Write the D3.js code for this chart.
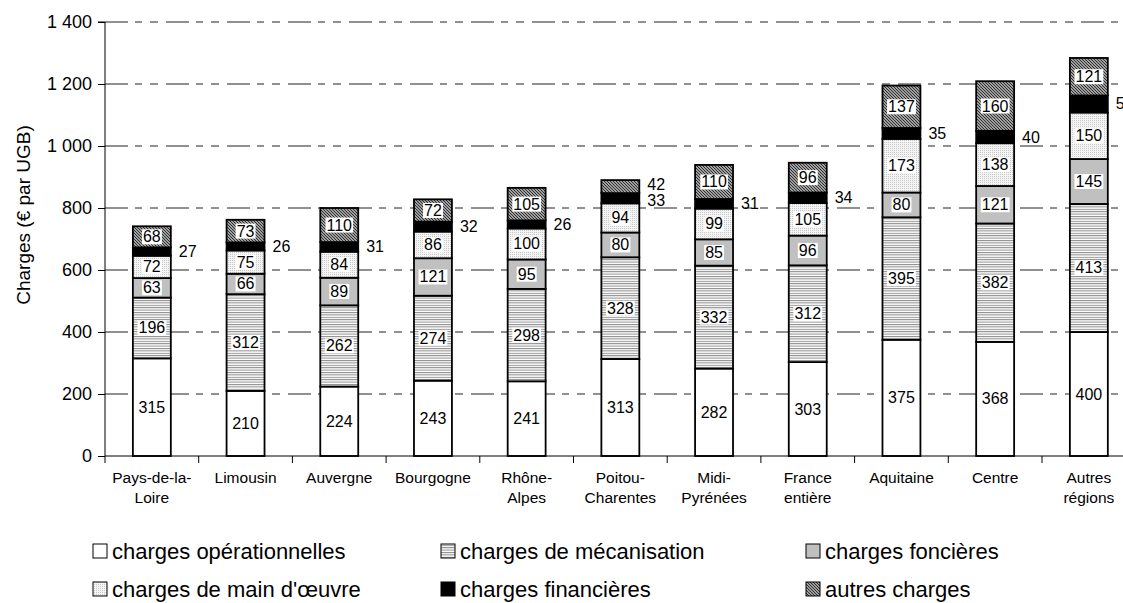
<!DOCTYPE html>
<html>
<head>
<meta charset="utf-8">
<script src="https://cdn.jsdelivr.net/npm/d3@7"></script>
<style>
  html, body { margin: 0; padding: 0; background: #fff; }
  svg { display: block; font-family: "Liberation Sans", Arial, sans-serif; }
</style>
</head>
<body>
<svg id="chart" width="1123" height="603"></svg>
<script>
// Regions (line breaks marked with "\n")
const categories = [
  "Pays-de-la-\nLoire", "Limousin", "Auvergne", "Bourgogne", "Rhône-\nAlpes",
  "Poitou-\nCharentes", "Midi-\nPyrénées", "France\nentière", "Aquitaine",
  "Centre", "Autres\nrégions"
];

// Charges per UGB (€), one array per cost item, stacked bottom to top
const operationnelles = [315, 210, 224, 243, 241, 313, 282, 303, 375, 368, 400];
const mecanisation    = [196, 312, 262, 274, 298, 328, 332, 312, 395, 382, 413];
const foncieres       = [63, 66, 89, 121, 95, 80, 85, 96, 80, 121, 145];
const mainOeuvre      = [72, 75, 84, 86, 100, 94, 99, 105, 173, 138, 150];
const financieres     = [27, 26, 31, 32, 26, 33, 31, 34, 35, 40, 55];
const autres          = [68, 73, 110, 72, 105, 42, 110, 96, 137, 160, 121];

const seriesNames = [
  "charges opérationnelles", "charges de mécanisation", "charges foncières",
  "charges de main d'œuvre", "charges financières", "autres charges"
];
const yTicks = [0, 200, 400, 600, 800, 1000, 1200, 1400];
const yTitle = "Charges (€ par UGB)";

const seriesValues = [operationnelles, mecanisation, foncieres, mainOeuvre, financieres, autres];
const keys = ["op", "meca", "fonc", "mo", "fin", "autres"];

const rows = categories.map((c, i) => {
  const r = { cat: c };
  keys.forEach((k, j) => r[k] = seriesValues[j][i]);
  return r;
});

const svg = d3.select("#chart");
const W = 1123;

// Fill patterns
const defs = svg.append("defs");
const pMeca = defs.append("pattern").attr("id", "pat-meca")
  .attr("patternUnits", "userSpaceOnUse").attr("width", 4).attr("height", 2.4);
pMeca.append("rect").attr("width", 4).attr("height", 2.4).attr("fill", "#fff");
pMeca.append("rect").attr("y", 0).attr("width", 4).attr("height", 1).attr("fill", "#8a8a8a");

const pMo = defs.append("pattern").attr("id", "pat-mo")
  .attr("patternUnits", "userSpaceOnUse").attr("width", 2).attr("height", 2);
pMo.append("rect").attr("width", 2).attr("height", 2).attr("fill", "#f4f4f4");
pMo.append("rect").attr("width", 1).attr("height", 1).attr("fill", "#c8c8c8");

const pAut = defs.append("pattern").attr("id", "pat-autres")
  .attr("patternUnits", "userSpaceOnUse").attr("width", 3).attr("height", 3);
pAut.append("rect").attr("width", 3).attr("height", 3).attr("fill", "#d0d0d0");
pAut.append("path").attr("d", "M-1,-1 L4,4 M-1,2 L1,4 M2,-1 L4,1")
  .attr("stroke", "#2a2a2a").attr("stroke-width", 1.15);

const fills = {
  op: "#ffffff",
  meca: "url(#pat-meca)",
  fonc: "#c0c0c0",
  mo: "url(#pat-mo)",
  fin: "#000000",
  autres: "url(#pat-autres)"
};

// Scales
const x0 = 105, plotRight = 105 + 11 * 93.7;
const x = d3.scaleBand().domain(categories).range([x0, plotRight])
  .paddingInner(0.595).paddingOuter(0.2975);
const y = d3.scaleLinear().domain([0, 1400]).range([456, 22]);

// Gridlines
svg.append("g").selectAll("line")
  .data(yTicks.filter(t => t > 0))
  .join("line")
  .attr("x1", x0).attr("x2", W)
  .attr("y1", d => y(d)).attr("y2", d => y(d))
  .attr("stroke", "#222").attr("stroke-width", 1)
  .attr("stroke-dasharray", "23,7,7,8,8,8");

// Y axis
const yAxis = d3.axisLeft(y).tickValues(yTicks).tickSize(7).tickPadding(6)
  .tickFormat(d => d3.format(",")(d).replace(/,/g, " "));
const gy = svg.append("g").attr("transform", `translate(${x0},0)`).call(yAxis);
gy.select(".domain").attr("stroke", "#000").attr("d", `M-7,${y(1400)}H0V${y(0)}`);
gy.selectAll(".tick line").attr("stroke", "#000");
gy.selectAll(".tick text").attr("font-size", 18).attr("fill", "#000")
  .attr("font-family", "Liberation Sans, Arial, sans-serif");

// Y title
svg.append("text")
  .attr("transform", `translate(23,215) rotate(-90)`)
  .attr("text-anchor", "middle").attr("dominant-baseline", "central")
  .attr("font-size", 19).text(yTitle);

// Stacked bars
const stack = d3.stack().keys(keys)(rows);
const gBars = svg.append("g");
stack.forEach(layer => {
  gBars.append("g").selectAll("rect")
    .data(layer)
    .join("rect")
    .attr("x", d => x(d.data.cat))
    .attr("width", x.bandwidth())
    .attr("y", d => y(d[1]))
    .attr("height", d => y(d[0]) - y(d[1]))
    .attr("fill", fills[layer.key])
    .attr("stroke", "#000").attr("stroke-width", 1.8);
});

// X axis
svg.append("line").attr("x1", x0).attr("x2", W).attr("y1", y(0)).attr("y2", y(0))
  .attr("stroke", "#000");
const step = x.step();
const gap = (step - x.bandwidth()) / 2;
svg.append("g").selectAll("line")
  .data(categories)
  .join("line")
  .attr("x1", d => x(d) - gap).attr("x2", d => x(d) - gap)
  .attr("y1", y(0)).attr("y2", y(0) + 7)
  .attr("stroke", "#000");

const gx = svg.append("g");
categories.forEach(c => {
  const t = gx.append("text").attr("text-anchor", "middle")
    .attr("font-size", 15.5)
    .attr("x", x(c) + x.bandwidth() / 2).attr("y", 483);
  c.split("\n").forEach((line, k) => {
    t.append("tspan").attr("x", x(c) + x.bandwidth() / 2)
      .attr("dy", k === 0 ? 0 : 20).text(line);
  });
});

// Value labels
const gLab = svg.append("g").attr("font-size", 16);
rows.forEach((r, i) => {
  const outside = [];
  stack.forEach(layer => {
    const d = layer[i];
    const v = d[1] - d[0];
    const cy = (y(d[0]) + y(d[1])) / 2;
    const isOut = layer.key === "fin" || (y(d[0]) - y(d[1])) < 15;
    if (isOut) outside.push({ v, cy });
    else {
      const cx = x(r.cat) + x.bandwidth() / 2;
      const g = gLab.append("g");
      const t = g.append("text").attr("x", cx).attr("y", cy)
        .attr("text-anchor", "middle").attr("dominant-baseline", "central").text(v);
      const b = t.node().getBBox();
      g.insert("rect", "text").attr("x", b.x - 1).attr("y", b.y + 1)
        .attr("width", b.width + 2).attr("height", b.height - 2).attr("fill", "#fff");
    }
  });
  // keep stacked outside labels apart
  if (outside.length === 2) {
    const diff = outside[0].cy - outside[1].cy;
    if (diff < 16) {
      const mid = (outside[0].cy + outside[1].cy) / 2;
      outside[0].cy = mid + 8; outside[1].cy = mid - 8;
    }
  }
  outside.forEach(o => {
    gLab.append("text").attr("x", x(r.cat) + x.bandwidth() + 8).attr("y", o.cy)
      .attr("dominant-baseline", "central").text(o.v);
  });
});

// Legend
const legendPos = [
  [93, 551], [441, 551], [806, 551],
  [93, 589], [441, 589], [806, 589]
];
const gLeg = svg.append("g");
seriesNames.forEach((name, j) => {
  const [lx, ly] = legendPos[j];
  gLeg.append("rect").attr("x", lx).attr("y", ly - 7).attr("width", 14).attr("height", 14)
    .attr("fill", fills[keys[j]]).attr("stroke", "#000").attr("stroke-width", 1);
  gLeg.append("text").attr("x", lx + 19).attr("y", ly)
    .attr("dominant-baseline", "central").attr("font-size", 22).text(name);
});
</script>
</body>
</html>
